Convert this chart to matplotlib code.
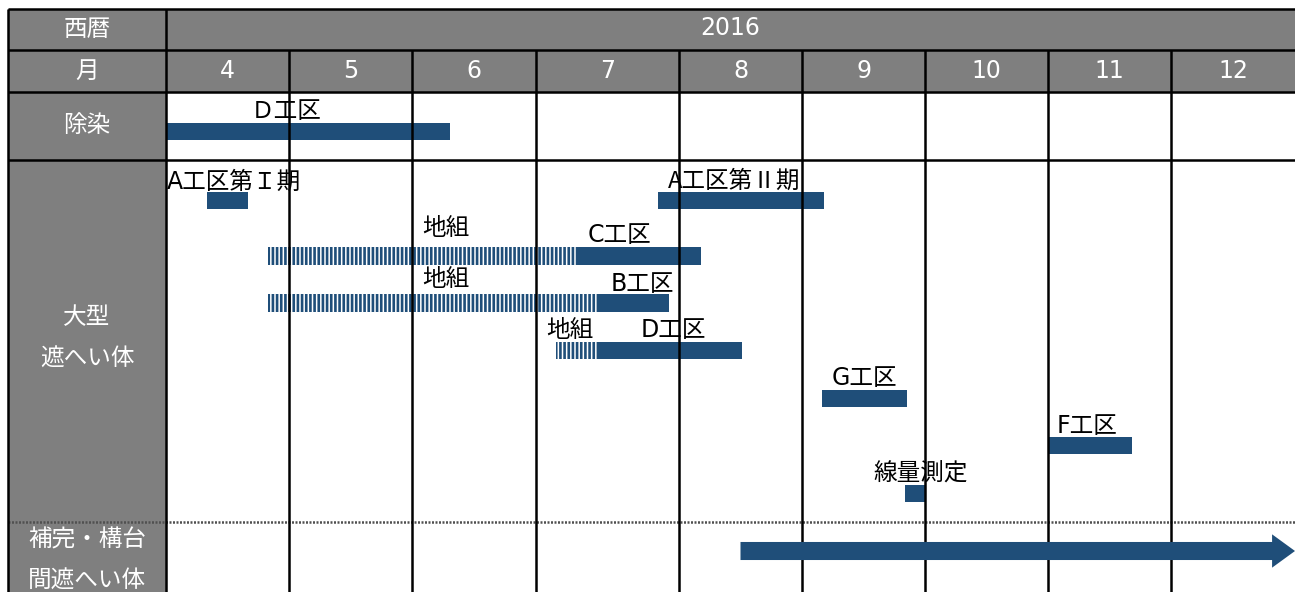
# 工程表 2016 (除染・大型遮へい体・補完/構台間遮へい体)
import numpy as np
import matplotlib.pyplot as plt
from matplotlib.patches import Rectangle

plt.rcParams['font.family'] = ['DejaVu Sans', 'Noto Sans CJK JP']
plt.rcParams['hatch.linewidth'] = 1.9

# Daten (Monate als Dezimalzahl, 4.0 = Anfang April)
year = '2016'
months = [4, 5, 6, 7, 8, 9, 10, 11, 12]
row_labels = ['西暦', '月', '除染', '大型\n遮へい体', '補完・構台\n間遮へい体']

task_names = ['Ｄ工区', 'A工区第Ｉ期', 'A工区第Ⅱ期', 'C工区', 'B工区',
              'D工区', 'G工区', 'F工区', '線量測定']
task_start = [4.0, 4.33, 7.85, 7.28, 7.43, 7.43, 9.16, 11.0, 9.84]
task_end = [6.31, 4.67, 9.18, 8.18, 7.93, 8.51, 9.85, 11.68, 10.0]

prep_name = '地組'
prep_start = [4.83, 4.83, 7.14]
prep_end = [7.28, 7.43, 7.43]

cont_start = 8.5
cont_end = 13.0

# Layout: Spaltenkanten (Monat -> Pixel), Spalte 7 ist breiter
col_m = np.array([-97, 3, 4, 5, 6, 7, 8, 9, 10, 11, 12, 13, 113], float)
col_px = np.array([8 - 100 * 158, 8, 166, 289, 412, 536, 679, 802, 925,
                   1048, 1171, 1295, 1295 + 100 * 124], float)


def fwd(m):
    return np.interp(m, col_m, col_px)


def inv(p):
    return np.interp(p, col_px, col_m)


task_y = [131.5, 200.5, 200.5, 256, 303, 350.5, 398.5, 445.5, 493.5]
task_lab_x = [4.976, 4.01, 7.92, 7.36, 7.52, 7.73, 9.24, 11.07, 9.58]
task_lab_ha = ['center'] + ['left'] * 8
task_lab_y = [111, 182, 181, 235, 284, 330, 378, 426, 474]
task_lab_font = [None, None, ['Noto Sans CJK JP'], None, None, None, None,
                 None, None]
prep_y = [256, 303, 350.5]
prep_lab_x = [6.27, 6.27, 7.24]
prep_lab_y = [228, 279, 330]
cont_y = 551
bar_h = 17.5

blue = '#1F4E79'
grey = '#7F7F7F'
lw = 1.8

fig = plt.figure(figsize=(12.95, 5.92), dpi=100)
ax = fig.add_axes([0, 0, 1, 1])
ax.set_xscale('function', functions=(fwd, inv))
ax.set_xlim(inv(0), 13)
ax.set_ylim(592, 0)
ax.axis('off')

# graue Kopf- und Seitenflaechen
ax.add_patch(Rectangle((3, 9), 10, 83, color=grey, lw=0))
ax.add_patch(Rectangle((3, 9), 1, 600, color=grey, lw=0))

# Balken
ax.barh(prep_y, np.subtract(prep_end, prep_start), left=prep_start,
        height=bar_h, facecolor='white', edgecolor=blue, lw=0, hatch='||||')
ax.barh(task_y, np.subtract(task_end, task_start), left=task_start,
        height=bar_h, color=blue, lw=0)
ax.annotate('', xy=(cont_end, cont_y), xytext=(cont_start, cont_y),
            arrowprops=dict(arrowstyle='simple,head_length=16.5,head_width=24,tail_width=13',
                            color=blue, lw=0, mutation_scale=1,
                            shrinkA=0, shrinkB=0), annotation_clip=False)

# Gitterlinien
ax.hlines([9, 50, 92, 160], 3, 13, color='black', lw=lw)
ax.hlines(521.5, 3, 13, color='#505050', lw=1.8, ls=(0, (0.8, 0.6)))
ax.vlines([3, 4], 9, 600, color='black', lw=lw)
ax.vlines(months[1:], 50, 600, color='black', lw=lw)

# Beschriftungen Kopf
fs = 17
ax.text(inv((fwd(4) + fwd(13)) / 2), 28, year, color='white', fontsize=fs,
        ha='center', va='center')
for m in months:
    ax.text(inv((fwd(m) + fwd(m + 1)) / 2), 71, str(m), color='white',
            fontsize=fs, ha='center', va='center')

row_y = [29, 71, 125, 338, 560]
for lab, y in zip(row_labels, row_y):
    ax.text(3.5, y, lab, color='white', fontsize=fs, ha='center',
            va='center', linespacing=1.9)

# Beschriftungen Balken
for name, x, y, ha, fam in zip(task_names, task_lab_x, task_lab_y,
                               task_lab_ha, task_lab_font):
    t = ax.text(x, y, name, fontsize=fs, ha=ha, va='center', color='black')
    if fam:
        t.set_family(fam)
for x, y in zip(prep_lab_x, prep_lab_y):
    ax.text(x, y, prep_name, fontsize=fs, ha='center', va='center',
            color='black')

plt.savefig('out.png', dpi=100)
